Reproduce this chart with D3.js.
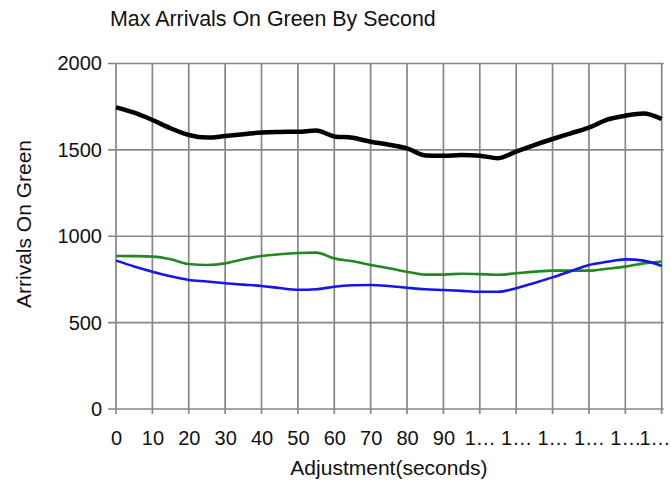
<!DOCTYPE html>
<html>
<head>
<meta charset="utf-8">
<script src="https://cdn.jsdelivr.net/npm/d3@7"></script>
<style>
  html, body { margin: 0; padding: 0; background: #fff; }
  svg { display: block; font-family: "Liberation Sans", Arial, Helvetica, sans-serif; }
</style>
</head>
<body>
<svg id="chart" width="671" height="485"></svg>
<script>
// ---- data ----
const seconds = [0,5,10,15,20,25,30,35,40,45,50,55,60,65,70,75,80,85,90,95,100,105,110,115,120,125,130,135,140,145,150];
const blackSeries = [1746,1715,1673,1625,1586,1571,1580,1590,1601,1604,1605,1612,1578,1570,1547,1530,1509,1468,1466,1470,1466,1452,1490,1528,1563,1596,1629,1675,1698,1711,1679];
const greenSeries = [886,885,882,867,839,834,843,867,886,896,903,905,872,855,834,815,795,778,778,783,781,777,786,795,801,801,801,812,824,843,853];
const blueSeries  = [859,825,795,768,747,738,728,720,712,700,690,693,708,716,718,712,702,693,689,684,679,679,699,730,762,798,834,852,866,859,828];
const xTickValues = [0,10,20,30,40,50,60,70,80,90,100,110,120,130,140,150];
const xTickLabels = ["0","10","20","30","40","50","60","70","80","90","1…","1…","1…","1…","1…","1…"];
const yTickValues = [0,500,1000,1500,2000];
const titleText = "Max Arrivals On Green By Second";
const xTitle = "Adjustment(seconds)";
const yTitle = "Arrivals On Green";

(function () {
  // ---- layout ----
  const svg = d3.select("#chart");
  const W = 671;
  const pLeft = 116, pRight = 661.7, pTop = 63.5, pBottom = 409;
  const x = d3.scaleLinear().domain([0,150]).range([pLeft, pRight]);
  const y = d3.scaleLinear().domain([0,2000]).range([pBottom, pTop]);
  const gridColor = "#878787";

  svg.append("rect").attr("width",W).attr("height",485).attr("fill","#fff");

  // horizontal gridlines
  svg.append("g").selectAll("line").data(yTickValues).join("line")
    .attr("x1", pLeft - 8).attr("x2", pRight + 2)
    .attr("y1", d => y(d)).attr("y2", d => y(d))
    .attr("stroke", gridColor).attr("stroke-width", 1.7);

  // vertical gridlines
  svg.append("g").selectAll("line").data(xTickValues).join("line")
    .attr("x1", d => x(d)).attr("x2", d => x(d))
    .attr("y1", pTop).attr("y2", pBottom + 5)
    .attr("stroke", gridColor).attr("stroke-width", 1.7);

  // y axis labels
  const yAxis = d3.axisLeft(y).tickValues(yTickValues).tickSize(0).tickPadding(14)
    .tickFormat(d3.format("d"));
  const gy = svg.append("g").attr("transform", `translate(${pLeft},0)`).call(yAxis);
  gy.select(".domain").remove();
  gy.selectAll("text").attr("font-size", 20).attr("fill", "#111")
    .attr("font-family", "Liberation Sans, Arial, sans-serif");

  // x axis labels
  const xAxis = d3.axisBottom(x).tickValues(xTickValues).tickSize(0).tickPadding(22)
    .tickFormat((d,i) => xTickLabels[i]);
  const gx = svg.append("g").attr("transform", `translate(0,${pBottom})`).call(xAxis);
  gx.select(".domain").remove();
  gx.selectAll("text").attr("font-size", 20).attr("fill", "#111")
    .attr("font-family", "Liberation Sans, Arial, sans-serif");
  // keep the last (edge) label inside the picture
  gx.selectAll(".tick").filter(d => d === xTickValues[xTickValues.length - 1])
    .select("text").attr("text-anchor", "end").attr("x", W - 1 - x(xTickValues[xTickValues.length - 1]));

  // lines
  const lineGen = vals => d3.line()
    .x((d,i) => x(seconds[i]))
    .y(d => y(d))
    .curve(d3.curveMonotoneX)(vals);

  svg.append("path").attr("d", lineGen(greenSeries)).attr("fill","none")
    .attr("stroke","#1f8a1f").attr("stroke-width",2.6).attr("stroke-linejoin","round");
  svg.append("path").attr("d", lineGen(blueSeries)).attr("fill","none")
    .attr("stroke","#1515ee").attr("stroke-width",2.6).attr("stroke-linejoin","round");
  svg.append("path").attr("d", lineGen(blackSeries)).attr("fill","none")
    .attr("stroke","#000").attr("stroke-width",4.5).attr("stroke-linejoin","round");

  // titles
  svg.append("text").attr("x", 110).attr("y", 26).attr("font-size", 21.4).attr("fill","#111")
    .text(titleText);
  svg.append("text").attr("x", 389).attr("y", 475).attr("text-anchor","middle")
    .attr("font-size", 21).attr("fill","#111").text(xTitle);
  svg.append("text").attr("transform", "translate(31,224) rotate(-90)")
    .attr("text-anchor","middle").attr("font-size", 21).attr("fill","#111").text(yTitle);
})();
</script>
</body>
</html>
